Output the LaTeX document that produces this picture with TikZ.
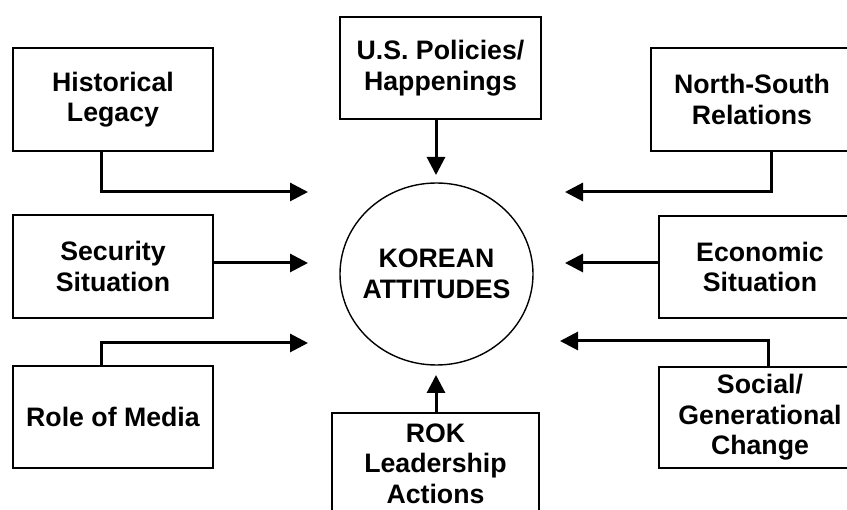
\documentclass[tikz,border=0pt]{standalone}
\usepackage{fontspec}
\setmainfont{Liberation Sans}
\usetikzlibrary{arrows.meta}
\begin{document}
\begin{tikzpicture}[x=1pt,y=-1pt,
  factor/.style={draw, line width=2pt, inner sep=0pt, align=center,
    minimum width=200pt, minimum height=103pt,
    font=\bfseries\fontsize{26.7}{30.5}\selectfont},
  centre/.style={inner sep=0pt, align=center,
    font=\bfseries\fontsize{26.7}{30.5}\selectfont},
  link/.style={line width=3pt, -{Triangle[length=18pt,width=18pt]}},
]
\useasboundingbox (0,0) rectangle (847,510);
\clip (0,0) rectangle (847,510);
\fill[white] (0,0) rectangle (847,510);

% central attitude circle
\node[centre] (att) at (436.5,274) {KOREAN\\ATTITUDES};
\draw[line width=1.4pt] (att.center) ellipse [x radius=96.5, y radius=91];

% surrounding factors
\node[factor] (hist) at (113,99.5) {Historical\\Legacy};
\node[factor, minimum width=201pt, minimum height=102pt] (us) at (440.5,68) {U.S. Policies/\\Happenings};
\node[factor, minimum width=202pt] (ns) at (752,99.5) {North-South\\Relations};
\node[factor] (sec) at (113,266.5) {Security\\Situation};
\node[factor, minimum width=202pt, minimum height=102pt] (eco) at (760,267) {Economic\\Situation};
\node[factor, minimum height=102pt] (media) at (113,417) {Role of Media};
\node[factor, minimum width=207pt, minimum height=101pt] (rok) at (435.5,463.5) {ROK\\Leadership\\Actions};
\node[factor, minimum width=202pt, minimum height=101pt] (soc) at (760,417.5) {Social/\\Generational\\Change};

% arrow tips and elbows
\coordinate (tHist) at (308,192);
\coordinate (kHist) at (101,192);
\coordinate (tSec) at (308,263);
\coordinate (tMedia) at (308,343);
\coordinate (kMedia) at (101,343);
\coordinate (tUS) at (436,175);
\coordinate (tROK) at (436,375);
\coordinate (tNS) at (565,192);
\coordinate (kNS) at (771,192);
\coordinate (tEco) at (565,263);
\coordinate (tSoc) at (560,341);
\coordinate (kSoc) at (768,341);

% connectors
\draw[link] (kHist |- hist.south) -- (kHist) -- (tHist);
\draw[link] (sec.east |- tSec) -- (tSec);
\draw[link] (kMedia |- media.north) -- (kMedia) -- (tMedia);
\draw[link] (tUS |- us.south) -- (tUS);
\draw[link] (tROK |- rok.north) -- (tROK);
\draw[link] (kNS |- ns.south) -- (kNS) -- (tNS);
\draw[link] (eco.west |- tEco) -- (tEco);
\draw[link] (kSoc |- soc.north) -- (kSoc) -- (tSoc);
\end{tikzpicture}
\end{document}
